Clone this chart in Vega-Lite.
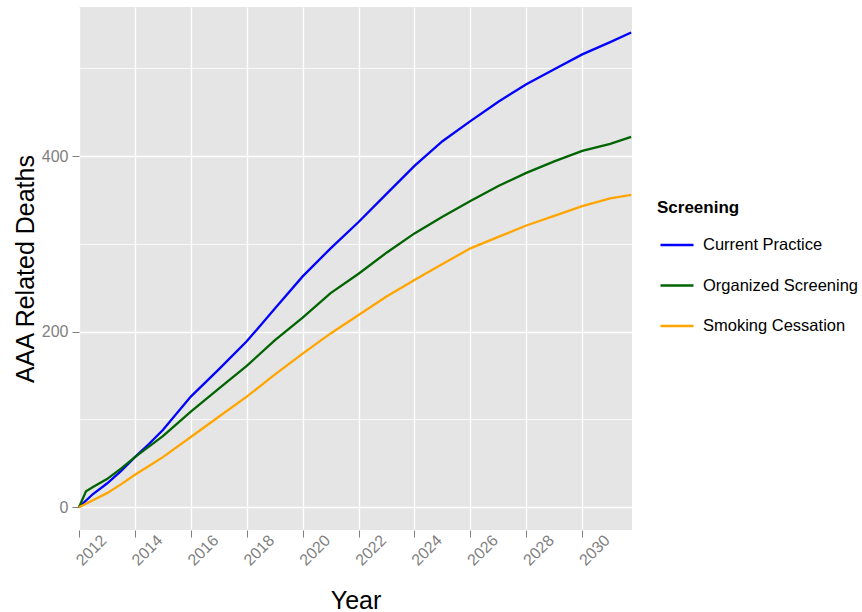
{
  "$schema": "https://vega.github.io/schema/vega-lite/v6.json",
  "width": 553,
  "height": 523,
  "autosize": {"type": "none"},
  "padding": {"left": 79, "top": 7, "right": 230, "bottom": 82},
  "background": "white",
  "config": {
    "view": {"fill": "#e5e5e5", "stroke": null},
    "font": "Liberation Sans",
    "axis": {
      "domain": false,
      "gridColor": "white",
      "tickColor": "#7f7f7f",
      "tickSize": 7,
      "tickWidth": 1,
      "labelColor": "#7f7f7f",
      "labelFontSize": 16,
      "titleFontSize": 25,
      "titleFontWeight": "normal",
      "titleColor": "black"
    }
  },
  "data": {
    "values": [
      {"year": 2012, "deaths": 0, "screening": "Current Practice"},
      {"year": 2012.5, "deaths": 15, "screening": "Current Practice"},
      {"year": 2013, "deaths": 27, "screening": "Current Practice"},
      {"year": 2013.5, "deaths": 41, "screening": "Current Practice"},
      {"year": 2014, "deaths": 57, "screening": "Current Practice"},
      {"year": 2014.5, "deaths": 72, "screening": "Current Practice"},
      {"year": 2015, "deaths": 88, "screening": "Current Practice"},
      {"year": 2016, "deaths": 126, "screening": "Current Practice"},
      {"year": 2017, "deaths": 157, "screening": "Current Practice"},
      {"year": 2018, "deaths": 189, "screening": "Current Practice"},
      {"year": 2019, "deaths": 226, "screening": "Current Practice"},
      {"year": 2020, "deaths": 263, "screening": "Current Practice"},
      {"year": 2021, "deaths": 295, "screening": "Current Practice"},
      {"year": 2022, "deaths": 325, "screening": "Current Practice"},
      {"year": 2023, "deaths": 357, "screening": "Current Practice"},
      {"year": 2024, "deaths": 389, "screening": "Current Practice"},
      {"year": 2025, "deaths": 417, "screening": "Current Practice"},
      {"year": 2026, "deaths": 440, "screening": "Current Practice"},
      {"year": 2027, "deaths": 462, "screening": "Current Practice"},
      {"year": 2028, "deaths": 482, "screening": "Current Practice"},
      {"year": 2029, "deaths": 499, "screening": "Current Practice"},
      {"year": 2030, "deaths": 516, "screening": "Current Practice"},
      {"year": 2031, "deaths": 530, "screening": "Current Practice"},
      {"year": 2031.75, "deaths": 541, "screening": "Current Practice"},
      {"year": 2012, "deaths": 0, "screening": "Organized Screening"},
      {"year": 2012.25, "deaths": 18, "screening": "Organized Screening"},
      {"year": 2012.5, "deaths": 23, "screening": "Organized Screening"},
      {"year": 2013, "deaths": 32, "screening": "Organized Screening"},
      {"year": 2013.5, "deaths": 44, "screening": "Organized Screening"},
      {"year": 2014, "deaths": 57, "screening": "Organized Screening"},
      {"year": 2014.5, "deaths": 69, "screening": "Organized Screening"},
      {"year": 2015, "deaths": 81, "screening": "Organized Screening"},
      {"year": 2016, "deaths": 109, "screening": "Organized Screening"},
      {"year": 2017, "deaths": 135, "screening": "Organized Screening"},
      {"year": 2018, "deaths": 161, "screening": "Organized Screening"},
      {"year": 2019, "deaths": 190, "screening": "Organized Screening"},
      {"year": 2020, "deaths": 216, "screening": "Organized Screening"},
      {"year": 2021, "deaths": 244, "screening": "Organized Screening"},
      {"year": 2022, "deaths": 266, "screening": "Organized Screening"},
      {"year": 2023, "deaths": 290, "screening": "Organized Screening"},
      {"year": 2024, "deaths": 312, "screening": "Organized Screening"},
      {"year": 2025, "deaths": 331, "screening": "Organized Screening"},
      {"year": 2026, "deaths": 349, "screening": "Organized Screening"},
      {"year": 2027, "deaths": 366, "screening": "Organized Screening"},
      {"year": 2028, "deaths": 381, "screening": "Organized Screening"},
      {"year": 2029, "deaths": 394, "screening": "Organized Screening"},
      {"year": 2030, "deaths": 406, "screening": "Organized Screening"},
      {"year": 2031, "deaths": 414, "screening": "Organized Screening"},
      {"year": 2031.75, "deaths": 422, "screening": "Organized Screening"},
      {"year": 2012, "deaths": 0, "screening": "Smoking Cessation"},
      {"year": 2012.5, "deaths": 8, "screening": "Smoking Cessation"},
      {"year": 2013, "deaths": 16, "screening": "Smoking Cessation"},
      {"year": 2013.5, "deaths": 26, "screening": "Smoking Cessation"},
      {"year": 2014, "deaths": 37, "screening": "Smoking Cessation"},
      {"year": 2014.5, "deaths": 47, "screening": "Smoking Cessation"},
      {"year": 2015, "deaths": 57, "screening": "Smoking Cessation"},
      {"year": 2016, "deaths": 80, "screening": "Smoking Cessation"},
      {"year": 2017, "deaths": 103, "screening": "Smoking Cessation"},
      {"year": 2018, "deaths": 126, "screening": "Smoking Cessation"},
      {"year": 2019, "deaths": 151, "screening": "Smoking Cessation"},
      {"year": 2020, "deaths": 175, "screening": "Smoking Cessation"},
      {"year": 2021, "deaths": 198, "screening": "Smoking Cessation"},
      {"year": 2022, "deaths": 219, "screening": "Smoking Cessation"},
      {"year": 2023, "deaths": 240, "screening": "Smoking Cessation"},
      {"year": 2024, "deaths": 259, "screening": "Smoking Cessation"},
      {"year": 2025, "deaths": 277, "screening": "Smoking Cessation"},
      {"year": 2026, "deaths": 295, "screening": "Smoking Cessation"},
      {"year": 2027, "deaths": 308, "screening": "Smoking Cessation"},
      {"year": 2028, "deaths": 321, "screening": "Smoking Cessation"},
      {"year": 2029, "deaths": 332, "screening": "Smoking Cessation"},
      {"year": 2030, "deaths": 343, "screening": "Smoking Cessation"},
      {"year": 2031, "deaths": 352, "screening": "Smoking Cessation"},
      {"year": 2031.75, "deaths": 356, "screening": "Smoking Cessation"}
    ]
  },
  "mark": {"type": "line", "strokeWidth": 2.3},
  "encoding": {
    "x": {
      "field": "year",
      "type": "quantitative",
      "scale": {"domain": [2012, 2031.78], "nice": false, "zero": false},
      "axis": {
        "title": "Year",
        "values": [2012, 2014, 2016, 2018, 2020, 2022, 2024, 2026, 2028, 2030],
        "format": "d",
        "labelAngle": -45,
        "labelAlign": "center",
        "labelBaseline": "middle",
        "labelOffset": 12,
        "labelPadding": 13,
        "labelFlush": false,
        "labelOverlap": false,
        "gridWidth": 1.3,
        "titleX": 276.5,
        "titleY": 78,
        "titleBaseline": "alphabetic"
      }
    },
    "y": {
      "field": "deaths",
      "type": "quantitative",
      "scale": {"domain": [-26, 570], "nice": false, "zero": false},
      "axis": {
        "title": "AAA Related Deaths",
        "values": [0, 100, 200, 300, 400, 500],
        "labelExpr": "datum.value % 200 === 0 ? datum.label : ''",
        "tickOpacity": {"condition": {"test": "datum.value % 200 === 0", "value": 1}, "value": 0},
        "gridWidth": {"condition": {"test": "datum.value % 200 === 0", "value": 1.3}, "value": 0.8},
        "labelPadding": 4,
        "titleAngle": 270,
        "titleX": -46,
        "titleY": 261.5,
        "titleBaseline": "alphabetic",
        "titleAlign": "center"
      }
    },
    "color": {
      "field": "screening",
      "type": "nominal",
      "scale": {
        "domain": ["Current Practice", "Organized Screening", "Smoking Cessation"],
        "range": ["#0000ff", "#006400", "#ffa500"]
      },
      "legend": {
        "orient": "none",
        "legendX": 578,
        "legendY": 193,
        "padding": 0,
        "title": "Screening",
        "titleFontSize": 17,
        "titleFontWeight": "bold",
        "titleColor": "black",
        "titlePadding": 10,
        "labelFontSize": 16.5,
        "labelColor": "black",
        "labelLimit": 300,
        "symbolType": "stroke",
        "symbolSize": 1089,
        "symbolStrokeWidth": 2.3,
        "symbolOffset": 2,
        "labelOffset": 8,
        "rowPadding": 13.5
      }
    }
  }
}
